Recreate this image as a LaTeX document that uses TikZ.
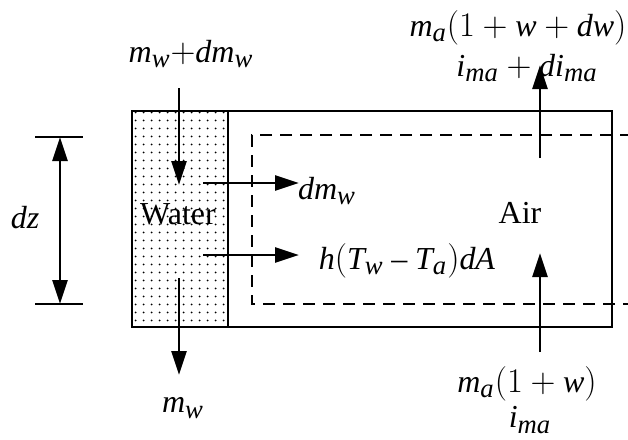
\documentclass[tikz,border=0pt]{standalone}
\usepackage{fontspec}
\setmainfont{Liberation Serif}
\usepackage[italic]{mathastext}
\usetikzlibrary{arrows.meta, positioning, patterns.meta}
\tikzset{
  flow/.style={line width=1.4pt, -{Triangle[length=12pt, width=7.5pt]}},
  wall/.style={line width=1.4pt},
  lbl/.style={font=\fontsize{16}{19}\selectfont, inner sep=1pt},
}

\begin{document}
\begin{tikzpicture}[x=0.5pt, y=-0.5pt]
  \useasboundingbox (0,0) rectangle (628,440);

  % water film and control volume
  \fill[pattern={Dots[distance=4pt, radius=0.55pt]}] (132,111) rectangle (228,327);
  \draw[wall] (132,111) rectangle (612,327);
  \draw[wall] (228,111) -- (228,327);
  \draw[wall, dash pattern=on 6pt off 4pt] (632,135) -- (252,135) -- (252,304) -- (632,304);

  % height dz
  \coordinate (dzt) at (60,137);
  \coordinate (dzb) at (60,304);
  \draw[line width=0.8pt] (35,137) -- (83,137) (35,304) -- (83,304);
  \draw[flow, {Triangle[length=12pt, width=7.5pt]}-{Triangle[length=12pt, width=7.5pt]}] (dzt) -- (dzb);
  \node[lbl] (dz) at (25,218) {$dz$};

  % labels
  \node[lbl] (win) at (191,54) {$m_w{+}dm_w$};
  \node[lbl] (wout) at (183,408) {$m_w$};
  \node[lbl] (water) at (178,214) {Water};
  \node[lbl] (air) at (520,213) {Air};
  \node[lbl] (evap) at (327,191) {$dm_w$};
  \node[lbl] (heat) at (407,261) {$h(T_w - T_a)dA$};
  \node[lbl] (aout) at (518,28) {$m_a(1 + w + dw)$};
  \node[lbl] (iout) at (527,68) {$i_{ma} + di_{ma}$};
  \node[lbl] (ain) at (527,384) {$m_a(1 + w)$};
  \node[lbl] (iin) at (530,420) {$i_{ma}$};

  % arrow ends
  \coordinate (w1) at (179,88);
  \coordinate (w2) at (179,185);
  \coordinate (w3) at (179,278);
  \coordinate (w4) at (179,375);
  \coordinate (e1) at (203,183);
  \coordinate (e2) at (299,183);
  \coordinate (h1) at (203,255);
  \coordinate (h2) at (299,255);
  \coordinate (a1) at (540,352);
  \coordinate (a2) at (540,253);
  \coordinate (a3) at (540,158);
  \coordinate (a4) at (540,65);

  \draw[flow] (w1) -- (w2);
  \draw[flow] (w3) -- (w4);
  \draw[flow] (e1) -- (e2);
  \draw[flow] (h1) -- (h2);
  \draw[flow] (a1) -- (a2);
  \draw[flow] (a3) -- (a4);
\end{tikzpicture}
\end{document}
